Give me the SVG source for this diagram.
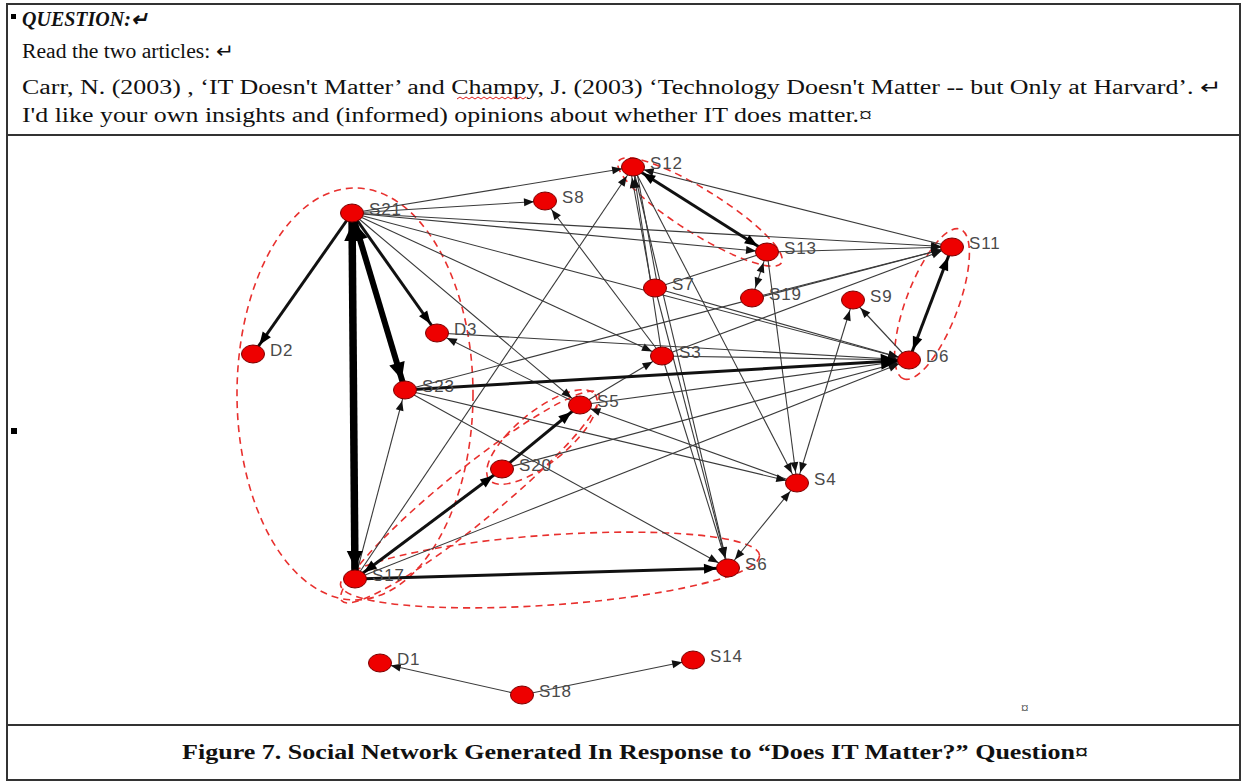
<svg xmlns="http://www.w3.org/2000/svg" width="1245" height="784" viewBox="0 0 1245 784">
<style>
.frame{fill:none;stroke:#333;stroke-width:2}
.hd{font-family:"Liberation Serif","Times New Roman",serif;font-size:20px;fill:#111}
.cap{font-family:"Liberation Serif","Times New Roman",serif;font-size:21px;font-weight:bold;fill:#111}
.e{stroke:#3a3a3a;stroke-width:1.1;fill:none}
.t3{stroke:#111;stroke-width:3;fill:none}
.t6{stroke:#000;stroke-width:6;fill:none}
.t7{stroke:#000;stroke-width:7.5;fill:none}
.grp{fill:none;stroke:#e8302e;stroke-width:1.6;stroke-dasharray:7 5}
.node ellipse{fill:#ee0000;stroke:#7a0000;stroke-width:1}
.node text{font-family:"Liberation Sans",Arial,sans-serif;font-size:17px;fill:#4a4a4a;letter-spacing:0.8px}
</style>
<defs>
<marker id="a" markerUnits="userSpaceOnUse" markerWidth="12" markerHeight="10" refX="21" refY="4" orient="auto-start-reverse" overflow="visible"><path d="M0,0 L10,4 L0,8 z" fill="#111"/></marker>
<marker id="am" markerUnits="userSpaceOnUse" markerWidth="14" markerHeight="12" refX="24" refY="5" orient="auto-start-reverse" overflow="visible"><path d="M0,0 L13,5 L0,10 z" fill="#000"/></marker>
<marker id="ab" markerUnits="userSpaceOnUse" markerWidth="18" markerHeight="16" refX="28" refY="8" orient="auto-start-reverse" overflow="visible"><path d="M0,0 L17,8 L0,16 z" fill="#000"/></marker>
</defs>
<rect x="0" y="0" width="1245" height="784" fill="#fff"/>
<g id="frame">
<rect class="frame" x="7" y="4" width="1233" height="776"/>
<line class="frame" x1="7" y1="135" x2="1240" y2="135"/>
<line class="frame" x1="7" y1="725" x2="1240" y2="725"/>
<rect x="11" y="14" width="5" height="5" fill="#000"/>
<rect x="11" y="428" width="6" height="6" fill="#000"/>
</g>
<g id="header">
<text class="hd" x="22" y="26" font-size="17" font-weight="bold" font-style="italic">QUESTION:↵</text>
<text class="hd" x="22" y="58" textLength="212" lengthAdjust="spacingAndGlyphs">Read the two articles: ↵</text>
<text class="hd" x="22" y="94" textLength="1200" lengthAdjust="spacingAndGlyphs">Carr, N. (2003) , ‘IT Doesn't Matter’ and  Champy, J. (2003) ‘Technology Doesn't Matter -- but Only at Harvard’. ↵</text>
<path d="M457,99 l3,-2 l3,2 l3,-2 l3,2 l3,-2 l3,2 l3,-2 l3,2 l3,-2 l3,2 l3,-2 l3,2 l3,-2 l3,2 l3,-2 l3,2 l3,-2 l3,2 l3,-2 l3,2 l3,-2 l3,2 l3,-2" fill="none" stroke="#e02020" stroke-width="1"/>
<text class="hd" x="22" y="122" textLength="850" lengthAdjust="spacingAndGlyphs">I'd like your own insights and (informed) opinions about whether IT does matter.¤</text>
</g>
<g id="caption">
<text class="cap" x="182" y="759" textLength="906" lengthAdjust="spacingAndGlyphs">Figure 7.  Social Network Generated In Response to “Does IT Matter?” Question¤</text>
<text x="1021" y="713" font-family="'Liberation Serif',serif" font-size="15" fill="#333">¤</text>
</g>
<g id="groups">
<ellipse class="grp" cx="355" cy="394" rx="118" ry="206"/>
<ellipse class="grp" cx="470" cy="497" rx="165" ry="27" transform="rotate(-39 470 497)"/>
<ellipse class="grp" cx="542" cy="437" rx="68" ry="26" transform="rotate(-39 542 437)"/>
<ellipse class="grp" cx="550" cy="570" rx="210" ry="35" transform="rotate(-4 550 570)"/>
<ellipse class="grp" cx="700" cy="212" rx="96" ry="22" transform="rotate(32 700 212)"/>
<ellipse class="grp" cx="932" cy="304" rx="80" ry="26" transform="rotate(110.8 932 304)"/>
</g>
<g id="connectors">
<line class="e" x1="352" y1="213" x2="633" y2="167" marker-end="url(#a)"/>
<line class="e" x1="352" y1="213" x2="545" y2="201" marker-end="url(#a)"/>
<line class="e" x1="352" y1="213" x2="767" y2="252" marker-end="url(#a)"/>
<line class="e" x1="352" y1="213" x2="952" y2="247" marker-end="url(#a)"/>
<line class="e" x1="352" y1="213" x2="909" y2="360" marker-end="url(#a)"/>
<line class="e" x1="352" y1="213" x2="662" y2="356" marker-end="url(#a)"/>
<line class="e" x1="352" y1="213" x2="580" y2="405" marker-end="url(#a)"/>
<line class="e" x1="952" y1="247" x2="633" y2="167" marker-end="url(#a)"/>
<line class="e" x1="767" y1="252" x2="952" y2="247" marker-end="url(#a)"/>
<line class="e" x1="752" y1="298" x2="952" y2="247" marker-end="url(#a)"/>
<line class="e" x1="405" y1="390" x2="952" y2="247" marker-end="url(#a)"/>
<line class="e" x1="662" y1="356" x2="952" y2="247" marker-end="url(#a)"/>
<line class="e" x1="655" y1="288" x2="767" y2="252"/>
<line class="e" x1="767" y1="252" x2="752" y2="298" marker-start="url(#a)" marker-end="url(#a)"/>
<line class="e" x1="655" y1="288" x2="909" y2="360" marker-end="url(#a)"/>
<line class="e" x1="662" y1="356" x2="909" y2="360" marker-end="url(#a)"/>
<line class="e" x1="580" y1="405" x2="909" y2="360" marker-end="url(#a)"/>
<line class="e" x1="502" y1="469" x2="909" y2="360" marker-end="url(#a)"/>
<line class="e" x1="355" y1="579" x2="909" y2="360" marker-end="url(#a)"/>
<line class="e" x1="437" y1="333" x2="909" y2="360" marker-end="url(#a)"/>
<line class="e" x1="909" y1="360" x2="853" y2="300" marker-end="url(#a)"/>
<line class="e" x1="797" y1="483" x2="853" y2="300" marker-start="url(#a)" marker-end="url(#a)"/>
<line class="e" x1="633" y1="167" x2="797" y2="483" marker-end="url(#a)"/>
<line class="e" x1="767" y1="252" x2="797" y2="483" marker-end="url(#a)"/>
<line class="e" x1="633" y1="167" x2="728" y2="568" marker-end="url(#a)"/>
<line class="e" x1="655" y1="288" x2="728" y2="568" marker-end="url(#a)"/>
<line class="e" x1="662" y1="356" x2="728" y2="568" marker-end="url(#a)"/>
<line class="e" x1="580" y1="405" x2="662" y2="356" marker-end="url(#a)"/>
<line class="e" x1="580" y1="405" x2="437" y2="333" marker-end="url(#a)"/>
<line class="e" x1="797" y1="483" x2="580" y2="405" marker-end="url(#a)"/>
<line class="e" x1="405" y1="390" x2="797" y2="483" marker-end="url(#a)"/>
<line class="e" x1="405" y1="390" x2="728" y2="568" marker-end="url(#a)"/>
<line class="e" x1="355" y1="579" x2="405" y2="390" marker-end="url(#a)"/>
<line class="e" x1="355" y1="579" x2="633" y2="167" marker-end="url(#a)"/>
<line class="e" x1="728" y1="568" x2="797" y2="483" marker-start="url(#a)" marker-end="url(#a)"/>
<line class="e" x1="662" y1="356" x2="545" y2="201" marker-end="url(#a)"/>
<line class="e" x1="652" y1="288" x2="630" y2="167" marker-end="url(#a)"/>
<line class="e" x1="658" y1="288" x2="636" y2="167"/>
<line class="e" x1="662" y1="356" x2="633" y2="167" marker-end="url(#a)"/>
<line class="e" x1="522" y1="695" x2="380" y2="663" marker-end="url(#a)"/>
<line class="e" x1="522" y1="695" x2="693" y2="660" marker-end="url(#a)"/>
<line class="t3" x1="352" y1="213" x2="253" y2="354" marker-end="url(#am)"/>
<line class="t3" x1="352" y1="213" x2="437" y2="333" marker-end="url(#am)"/>
<line class="t6" x1="352" y1="213" x2="405" y2="390" marker-start="url(#ab)" marker-end="url(#ab)"/>
<line class="t7" x1="355" y1="579" x2="352" y2="213" marker-start="url(#ab)" marker-end="url(#ab)"/>
<line class="t3" x1="633" y1="167" x2="767" y2="252" marker-start="url(#am)" marker-end="url(#am)"/>
<line class="t3" x1="952" y1="247" x2="909" y2="360" marker-start="url(#am)" marker-end="url(#am)"/>
<line class="t3" x1="405" y1="390" x2="909" y2="360" marker-end="url(#ab)"/>
<line class="t3" x1="355" y1="579" x2="502" y2="469" marker-start="url(#am)" marker-end="url(#am)"/>
<line class="t3" x1="502" y1="469" x2="580" y2="405" marker-end="url(#am)"/>
<line class="t3" x1="355" y1="579" x2="728" y2="568" marker-end="url(#am)"/>
</g>
<g id="S21" class="node"><ellipse cx="352" cy="213" rx="11.5" ry="9"/><text x="369" y="215">S21</text></g>
<g id="S8" class="node"><ellipse cx="545" cy="201" rx="11.5" ry="9"/><text x="562" y="203">S8</text></g>
<g id="S12" class="node"><ellipse cx="633" cy="167" rx="11.5" ry="9"/><text x="650" y="169">S12</text></g>
<g id="S13" class="node"><ellipse cx="767" cy="252" rx="11.5" ry="9"/><text x="784" y="254">S13</text></g>
<g id="S11" class="node"><ellipse cx="952" cy="247" rx="11.5" ry="9"/><text x="969" y="249">S11</text></g>
<g id="S7" class="node"><ellipse cx="655" cy="288" rx="11.5" ry="9"/><text x="672" y="290">S7</text></g>
<g id="S19" class="node"><ellipse cx="752" cy="298" rx="11.5" ry="9"/><text x="769" y="300">S19</text></g>
<g id="S9" class="node"><ellipse cx="853" cy="300" rx="11.5" ry="9"/><text x="870" y="302">S9</text></g>
<g id="D2" class="node"><ellipse cx="253" cy="354" rx="11.5" ry="9"/><text x="270" y="356">D2</text></g>
<g id="D3" class="node"><ellipse cx="437" cy="333" rx="11.5" ry="9"/><text x="454" y="335">D3</text></g>
<g id="S3" class="node"><ellipse cx="662" cy="356" rx="11.5" ry="9"/><text x="679" y="358">S3</text></g>
<g id="D6" class="node"><ellipse cx="909" cy="360" rx="11.5" ry="9"/><text x="926" y="362">D6</text></g>
<g id="S23" class="node"><ellipse cx="405" cy="390" rx="11.5" ry="9"/><text x="422" y="392">S23</text></g>
<g id="S5" class="node"><ellipse cx="580" cy="405" rx="11.5" ry="9"/><text x="597" y="407">S5</text></g>
<g id="S20" class="node"><ellipse cx="502" cy="469" rx="11.5" ry="9"/><text x="519" y="471">S20</text></g>
<g id="S4" class="node"><ellipse cx="797" cy="483" rx="11.5" ry="9"/><text x="814" y="485">S4</text></g>
<g id="S17" class="node"><ellipse cx="355" cy="579" rx="11.5" ry="9"/><text x="372" y="581">S17</text></g>
<g id="S6" class="node"><ellipse cx="728" cy="568" rx="11.5" ry="9"/><text x="745" y="570">S6</text></g>
<g id="D1" class="node"><ellipse cx="380" cy="663" rx="11.5" ry="9"/><text x="397" y="665">D1</text></g>
<g id="S18" class="node"><ellipse cx="522" cy="695" rx="11.5" ry="9"/><text x="539" y="697">S18</text></g>
<g id="S14" class="node"><ellipse cx="693" cy="660" rx="11.5" ry="9"/><text x="710" y="662">S14</text></g>
</svg>
